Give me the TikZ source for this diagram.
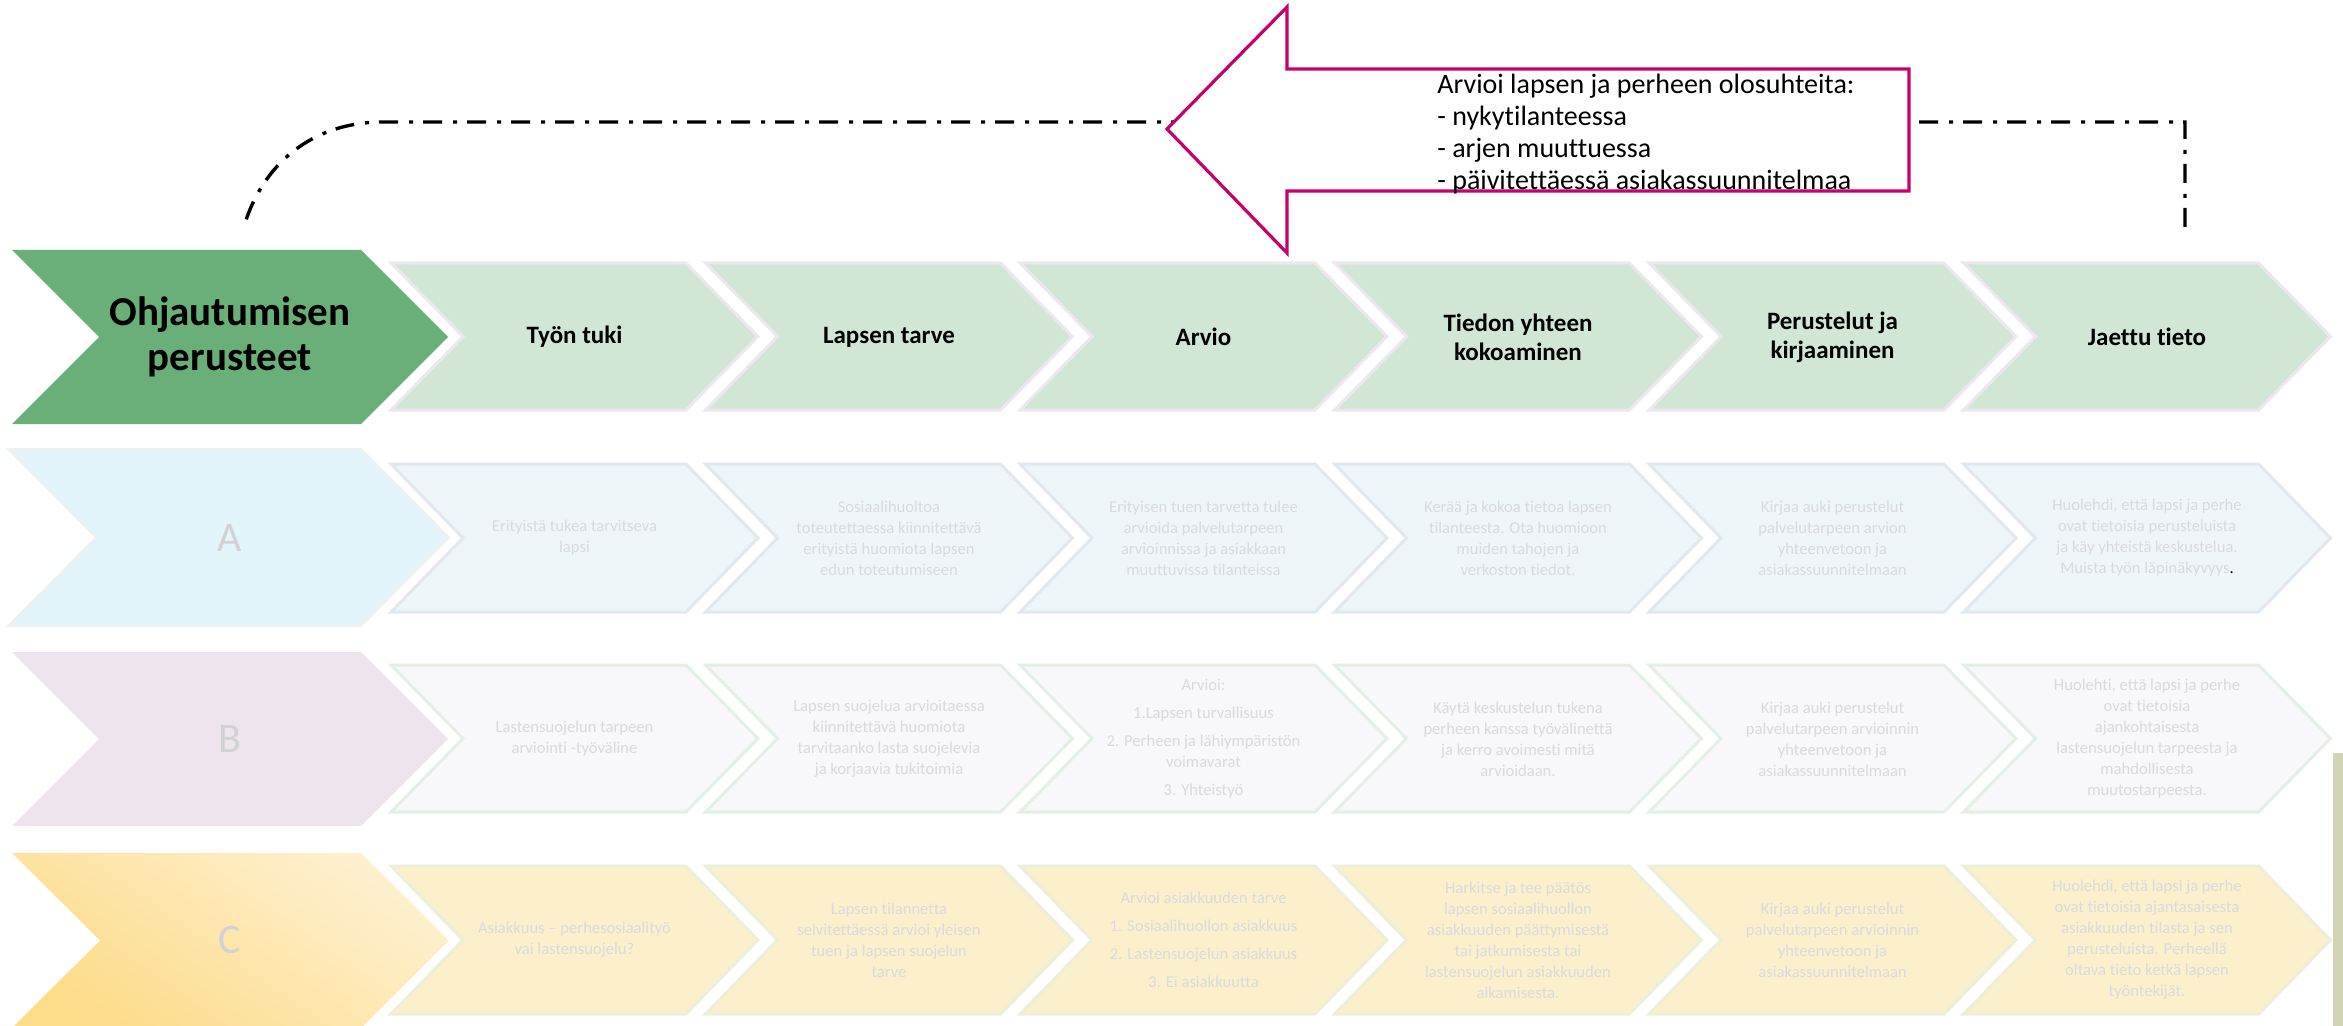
\documentclass[tikz,border=0pt]{standalone}
\usepackage{fontspec}
\setmainfont{Carlito}[Ligatures=NoCommon]
\usetikzlibrary{calc}
\definecolor{greendark}{HTML}{6AAF79}
\definecolor{greenlight}{HTML}{D2E6D6}
\definecolor{lavline}{HTML}{EDE8F0}
\definecolor{bluebig}{HTML}{E4F4FB}
\definecolor{bluesmall}{HTML}{EFF6FA}
\definecolor{blueline}{HTML}{E1E8EE}
\definecolor{lilacbig}{HTML}{EEE4EE}
\definecolor{lilacsmall}{HTML}{F8F7FA}
\definecolor{lilacline}{HTML}{E3F0E6}
\definecolor{yellowtop}{HTML}{FEF0D0}
\definecolor{yellowbot}{HTML}{FDDC8A}
\definecolor{yellowsmall}{HTML}{FCEFCC}
\definecolor{yellowline}{HTML}{ECEFD9}
\definecolor{greytxt}{HTML}{D8DADD}
\definecolor{lettertxt}{HTML}{D2D2D4}
\definecolor{pinkline}{HTML}{C8006E}
\definecolor{khaki}{HTML}{D3D3B5}
\newcommand{\chev}[6]{\path[#1] (#2,#3) -- ({#2+#5},#3) -- ({#2+#5+#6},{(#3+#4)/2}) -- ({#2+#5},#4) -- (#2,#4) -- ({#2+#6},{(#3+#4)/2}) -- cycle;}
\tikzset{
  hdrbig/.style={fill=greendark},
  hdrsmall/.style={fill=greenlight, draw=lavline, line width=1.5pt},
  abig/.style={fill=bluebig, draw=black!6, line width=1pt},
  asmall/.style={fill=bluesmall, draw=blueline, line width=1.5pt},
  bbig/.style={fill=lilacbig},
  bsmall/.style={fill=lilacsmall, draw=lilacline, line width=1.5pt},
  cbig/.style={top color=yellowtop, bottom color=yellowbot, shading angle=-35},
  csmall/.style={fill=yellowsmall, draw=yellowline, line width=1.5pt},
  bigtxt/.style={align=center, inner sep=0pt, font=\bfseries\fontsize{20.5}{22.5}\selectfont},
  hdrtxt/.style={align=center, inner sep=0pt, font=\bfseries\fontsize{12.5}{14.5}\selectfont},
  lettxt/.style={inner sep=0pt, text=lettertxt, font=\fontsize{21}{24}\selectfont},
  rowtxt/.style={align=center, inner sep=0pt, text=greytxt, font=\fontsize{8.3}{10.5}\selectfont},
  arrowtxt/.style={align=left, inner sep=0pt, font=\fontsize{14}{16}\selectfont},
  dashdotline/.style={line width=1.7pt, dash pattern=on 9.5pt off 5pt on 2pt off 5.5pt},
  pinkarrow/.style={fill=white, draw=pinkline, line width=1.6pt}
}
\begin{document}
\begin{tikzpicture}[x=0.5pt,y=-0.5pt]
\useasboundingbox (0,0) rectangle (2343,1026);
%otsikot
\chev{hdrbig}{12}{250}{424}{349}{87}
\chev{hdrsmall}{391}{263}{410}{295}{72}
\chev{hdrsmall}{705.5}{263}{410}{295}{72}
\chev{hdrsmall}{1020}{263}{410}{295}{72}
\chev{hdrsmall}{1334.5}{263}{410}{295}{72}
\chev{hdrsmall}{1649}{263}{410}{295}{72}
\chev{hdrsmall}{1963.5}{263}{410}{295}{72}
\node[bigtxt] (h0) at (230,337) {Ohjautumisen\\perusteet};
\node[hdrtxt] (h1) at (574.5,337) {Työn tuki};
\node[hdrtxt] (h2) at (889,337) {Lapsen tarve};
\node[hdrtxt] (h3) at (1203.5,337) {Arvio};
\node[hdrtxt] (h4) at (1518,337) {Tiedon yhteen\\kokoaminen};
\node[hdrtxt] (h5) at (1832.5,337) {Perustelut ja\\kirjaaminen};
\node[hdrtxt] (h6) at (2147,337) {Jaettu tieto};
%A
\chev{abig}{8}{449}{626}{353}{88}
\chev{asmall}{391}{464}{612}{295}{72}
\chev{asmall}{705.5}{464}{612}{295}{72}
\chev{asmall}{1020}{464}{612}{295}{72}
\chev{asmall}{1334.5}{464}{612}{295}{72}
\chev{asmall}{1649}{464}{612}{295}{72}
\chev{asmall}{1963.5}{464}{612}{295}{72}
\node[lettxt] (a0) at (230,538) {A};
\node[rowtxt] (a1) at (574.5,538) {Erityistä tukea tarvitseva\\lapsi};
\node[rowtxt] (a2) at (889,538) {Sosiaalihuoltoa\\toteutettaessa kiinnitettävä\\erityistä huomiota lapsen\\edun toteutumiseen};
\node[rowtxt] (a3) at (1203.5,538) {Erityisen tuen tarvetta tulee\\arvioida palvelutarpeen\\arvioinnissa ja asiakkaan\\muuttuvissa tilanteissa};
\node[rowtxt] (a4) at (1518,538) {Kerää ja kokoa tietoa lapsen\\tilanteesta. Ota huomioon\\muiden tahojen ja\\verkoston tiedot.};
\node[rowtxt] (a5) at (1832.5,538) {Kirjaa auki perustelut\\palvelutarpeen arvion\\yhteenvetoon ja\\asiakassuunnitelmaan};
\node[rowtxt] (a6) at (2147,538) {Huolehdi, että lapsi ja perhe\\ovat tietoisia perusteluista\\ja käy yhteistä keskustelua.\\Muista työn läpinäkyvyys{\color{black}.}};
%B
\chev{bbig}{12}{652}{826}{349}{87}
\chev{bsmall}{391}{665}{812}{295}{72}
\chev{bsmall}{705.5}{665}{812}{295}{72}
\chev{bsmall}{1020}{665}{812}{295}{72}
\chev{bsmall}{1334.5}{665}{812}{295}{72}
\chev{bsmall}{1649}{665}{812}{295}{72}
\chev{bsmall}{1963.5}{665}{812}{295}{72}
\node[lettxt] (b0) at (230,739) {B};
\node[rowtxt] (b1) at (574.5,739) {Lastensuojelun tarpeen\\arviointi -työväline};
\node[rowtxt] (b2) at (889,739) {Lapsen suojelua arvioitaessa\\kiinnitettävä huomiota\\tarvitaanko lasta suojelevia\\ja korjaavia tukitoimia};
\node[rowtxt] (b3) at (1203.5,739) {Arvioi:\\[3.5pt]1.Lapsen turvallisuus\\[3.5pt]2. Perheen ja lähiympäristön\\voimavarat\\[3.5pt]3. Yhteistyö};
\node[rowtxt] (b4) at (1518,739) {Käytä keskustelun tukena\\perheen kanssa työvälinettä\\ja kerro avoimesti mitä\\arvioidaan.};
\node[rowtxt] (b5) at (1832.5,739) {Kirjaa auki perustelut\\palvelutarpeen arvioinnin\\yhteenvetoon ja\\asiakassuunnitelmaan};
\node[rowtxt] (b6) at (2147,739) {Huolehti, että lapsi ja perhe\\ovat tietoisia\\ajankohtaisesta\\lastensuojelun tarpeesta ja\\mahdollisesta\\muutostarpeesta.};
%C
\chev{cbig}{12}{853}{1028}{349}{88}
\chev{csmall}{391}{866}{1014}{295}{72}
\chev{csmall}{705.5}{866}{1014}{295}{72}
\chev{csmall}{1020}{866}{1014}{295}{72}
\chev{csmall}{1334.5}{866}{1014}{295}{72}
\chev{csmall}{1649}{866}{1014}{295}{72}
\chev{csmall}{1963.5}{866}{1014}{295}{72}
\node[lettxt] (c0) at (230,940) {C};
\node[rowtxt] (c1) at (574.5,940) {Asiakkuus – perhesosiaalityö\\vai lastensuojelu?};
\node[rowtxt] (c2) at (889,940) {Lapsen tilannetta\\selvitettäessä arvioi yleisen\\tuen ja lapsen suojelun\\tarve};
\node[rowtxt] (c3) at (1203.5,940) {Arvioi asiakkuuden tarve\\[3.5pt]1. Sosiaalihuollon asiakkuus\\[3.5pt]2. Lastensuojelun asiakkuus\\[3.5pt]3. Ei asiakkuutta};
\node[rowtxt] (c4) at (1518,940) {Harkitse ja tee päätös\\lapsen sosiaalihuollon\\asiakkuuden päättymisestä\\tai jatkumisesta tai\\lastensuojelun asiakkuuden\\alkamisesta.};
\node[rowtxt] (c5) at (1832.5,940) {Kirjaa auki perustelut\\palvelutarpeen arvioinnin\\yhteenvetoon ja\\asiakassuunnitelmaan};
\node[rowtxt] (c6) at (2147,940) {Huolehdi, että lapsi ja perhe\\ovat tietoisia ajantasaisesta\\asiakkuuden tilasta ja sen\\perusteluista. Perheellä\\oltava tieto ketkä lapsen\\työntekijät.};
\fill[khaki] (2333,753) rectangle (2343,1026);
%palaute
\coordinate (loopstart) at (245,223);
\coordinate (loopend) at (2185,227);
\draw[dashdotline] (loopend) -- (2185,122) -- (383,122) to[out=180,in=72] (loopstart);
\draw[pinkarrow] (1167,129) -- (1287,7) -- (1287,69) -- (1909,69) -- (1909,191) -- (1287,191) -- (1287,253) -- cycle;
\node[arrowtxt, anchor=west] (olo) at (1437,134) {Arvioi lapsen ja perheen olosuhteita:\\- nykytilanteessa\\- arjen muuttuessa\\- päivitettäessä asiakassuunnitelmaa};
\end{tikzpicture}
\end{document}
